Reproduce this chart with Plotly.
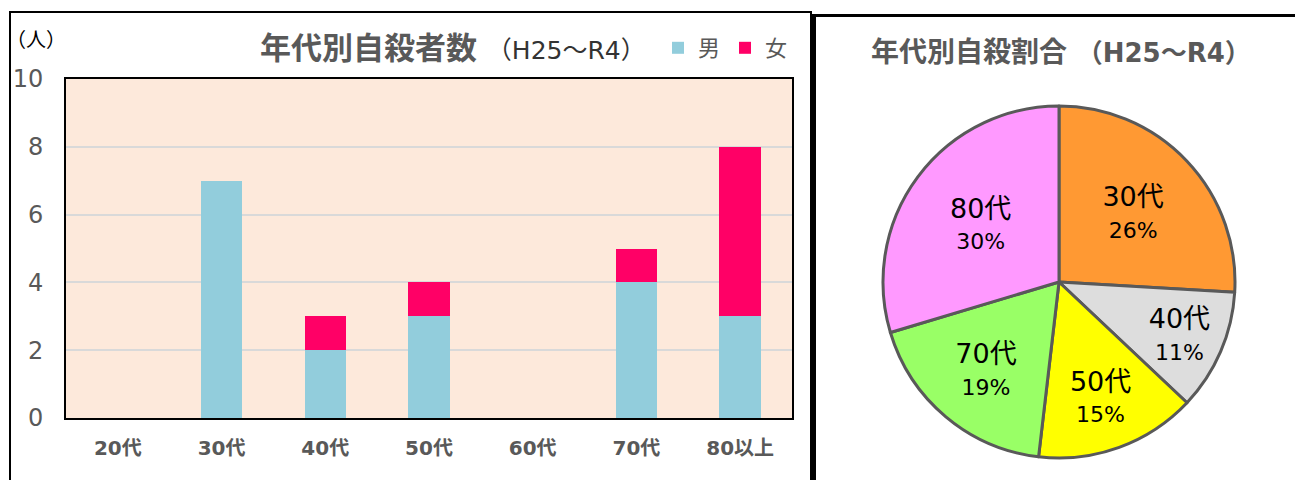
import plotly.graph_objects as go

# ---- data ----
age_groups = ["20代", "30代", "40代", "50代", "60代", "70代", "80以上"]
male = [0, 7, 2, 3, 0, 4, 3]
female = [0, 0, 1, 1, 0, 1, 5]

pie_labels = ["30代", "40代", "50代", "70代", "80代"]
pie_values = [7, 3, 4, 5, 8]

y_ticks = [0, 2, 4, 6, 8, 10]

W, H = 1295, 480
FONT = "DejaVu Sans, Noto Sans CJK JP"
GRAY = "#595959"


def px(x):
    return x / W


def py(y):
    return 1 - y / H


fig = go.Figure()

fig.add_trace(go.Bar(
    x=age_groups, y=male, name="男",
    marker=dict(color="#92CDDC", line=dict(width=0)),
))
fig.add_trace(go.Bar(
    x=age_groups, y=female, name="女",
    marker=dict(color="#FF0066", line=dict(width=0)),
))

fig.add_trace(go.Pie(
    labels=pie_labels, values=pie_values,
    sort=False, direction="clockwise", rotation=0,
    marker=dict(colors=["#FF9933", "#DDDDDD", "#FFFF00", "#99FF66", "#FF99FF"],
                line=dict(color="#595959", width=3)),
    texttemplate="<span style='font-size:27px'>%{label}</span><br>"
                 "<span style='font-size:22px'>%{percent:.0%}</span>",
    textposition="inside",
    insidetextorientation="horizontal",
    textfont=dict(family=FONT, size=24, color="black"),
    showlegend=False,
    hoverinfo="label+percent",
    domain=dict(x=[px(883), px(1235)], y=[py(458), py(106)]),
))

fig.update_layout(
    width=W, height=H,
    margin=dict(l=0, r=0, t=0, b=0, autoexpand=False),
    paper_bgcolor="white",
    plot_bgcolor="#FDE9DB",
    barmode="stack",
    bargap=0.6,
    font=dict(family=FONT, color=GRAY),
    uniformtext=dict(minsize=24, mode="show"),
    xaxis=dict(
        domain=[px(66), px(792)], automargin=False,
        showline=True, linecolor="black", linewidth=2, mirror=True,
        showgrid=False, ticks="",
        tickfont=dict(family=FONT, size=20, color=GRAY, weight="bold"),
        ticklabelstandoff=11,
    ),
    yaxis=dict(
        domain=[py(418), py(79)], automargin=False,
        range=[0, 10], tickvals=y_ticks,
        showline=True, linecolor="black", linewidth=2, mirror=True,
        showgrid=True, gridcolor="#D9D9D9", gridwidth=1.5,
        zeroline=False, ticks="",
        tickfont=dict(family=FONT, size=24, color=GRAY),
        ticklabelstandoff=16,
    ),
    legend=dict(
        orientation="h", traceorder="normal",
        x=px(658), y=py(48), xanchor="left", yanchor="middle",
        font=dict(family=FONT, size=22, color=GRAY),
        itemwidth=30, tracegroupgap=0,
        bgcolor="rgba(0,0,0,0)",
    ),
    shapes=[
        # frame around the bar chart
        dict(type="rect", xref="paper", yref="paper",
             x0=px(10), x1=px(811), y0=py(500), y1=py(12),
             line=dict(color="black", width=2)),
        # frame around the pie chart
        dict(type="line", xref="paper", yref="paper",
             x0=px(814), x1=px(814), y0=py(500), y1=py(14),
             line=dict(color="black", width=4)),
        dict(type="line", xref="paper", yref="paper",
             x0=px(812), x1=px(1300), y0=py(15.5), y1=py(15.5),
             line=dict(color="black", width=3)),
    ],
    annotations=[
        dict(text="<b>年代別自殺者数</b> <span style='font-size:25px;color:#333333'>（H25～R4）</span>",
             xref="paper", yref="paper", x=px(453), y=py(48),
             xanchor="center", yanchor="middle", showarrow=False,
             font=dict(family=FONT, size=31, color=GRAY)),
        dict(text="（人）", xref="paper", yref="paper", x=px(36), y=py(40),
             xanchor="center", yanchor="middle", showarrow=False,
             font=dict(family=FONT, size=20, color="black")),
        dict(text="<b>年代別自殺割合 <span style='font-size:26px'>（H25～R4）</span></b>",
             xref="paper", yref="paper", x=px(1061), y=py(53),
             xanchor="center", yanchor="middle", showarrow=False,
             font=dict(family=FONT, size=28, color=GRAY)),
    ],
)

fig.write_html("out.html")
